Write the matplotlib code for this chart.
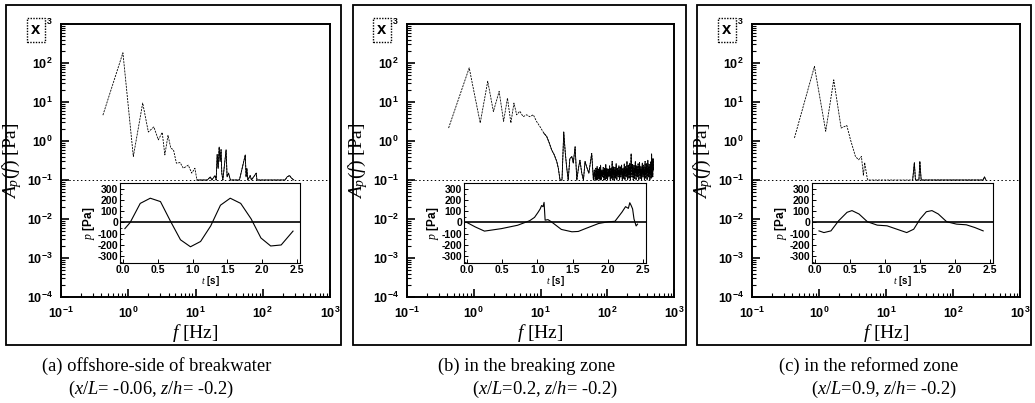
import matplotlib
matplotlib.use("Agg")
import matplotlib.pyplot as plt
import matplotlib.ticker as ticker
from matplotlib.patches import Rectangle
import numpy as np

plt.rcParams["mathtext.fontset"] = "custom"
plt.rcParams["mathtext.rm"] = "Liberation Sans:bold"
plt.rcParams["mathtext.bf"] = "Liberation Sans:bold"
plt.rcParams["mathtext.it"] = "Liberation Serif:italic"
plt.rcParams["axes.unicode_minus"] = False

# ---- spectra A_p(f) [Pa] ----
fa = [0.42, 0.833, 1.19, 1.64, 1.99, 2.4, 2.8, 3.2, 3.5, 3.9, 4.3, 4.7, 5.2, 5.9, 6.6, 7.8, 8.8,
      9.8, 10.5, 15, 16.6, 17.5, 19.5, 20.3, 21, 21.7, 22.5, 23.2, 24, 24.6, 25.5, 28.5, 29.5, 31,
      33, 45, 55, 56.5, 58, 60, 65, 68, 80, 82, 215, 230, 250, 270, 290]
Aa = [4.6, 183, 0.4, 9.4, 1.7, 2.3, 1.07, 1.66, 0.44, 1.4, 0.65, 0.6, 0.27, 0.28, 0.2, 0.24, 0.15,
      0.2, 0.1, 0.1, 0.12, 0.1, 0.13, 0.1, 0.45, 0.2, 0.7, 0.3, 0.6, 0.15, 0.1, 0.59, 0.12, 0.15,
      0.1, 0.1, 0.44, 0.12, 0.2, 0.1, 0.13, 0.1, 0.15, 0.1, 0.1, 0.12, 0.13, 0.11, 0.1]

fb = [0.42, 0.855, 1.25, 1.62, 1.97, 2.4, 2.8, 3.2, 3.6, 4.0, 4.4, 4.9, 5.5, 6.2, 6.9, 7.8, 8.7,
      9.8, 11.2, 12.4, 13.5, 14.7, 16.0, 17.5, 18.5, 19.6, 21.0, 22.3, 23.5, 24.6, 26, 27.5, 29.5,
      31, 33, 35, 37, 39, 41.5, 44, 46.5, 49, 53, 58.5, 62, 64, 66, 67.5, 69, 70.5, 72, 73.5, 75,
      76.5, 78, 79.5, 81, 83, 85, 87, 89, 91, 93, 95, 97, 99, 101, 103.5, 106, 108.5, 111, 113.5,
      116, 118.5, 121, 124, 127, 130, 133, 136, 139, 142.5, 146, 149.5, 153, 156.5, 160, 164,
      168, 172, 176, 180, 184, 188.5, 193, 197.5, 202, 207, 212, 217, 222, 228, 234, 239.5, 245,
      251, 257, 263.5, 270, 276.5, 283, 290, 297, 304.5, 312, 319.5, 327, 335, 343, 351.5, 360,
      369, 378, 387, 396, 405.5, 415, 425, 435, 445, 455, 462, 470, 475, 480, 485, 490]
Ab = [2.15, 75, 2.9, 34, 5.7, 18.7, 3.2, 12.6, 2.9, 9.4, 4.7, 5.8, 4.2, 4.7, 4.2, 4.7, 3.2,
      2.35, 1.6, 1.3, 0.9, 0.59, 0.45, 0.3, 0.2, 0.1, 0.1, 1.7, 0.5, 0.22, 0.1, 0.35, 0.4,
      0.27, 0.71, 0.1, 0.2, 0.32, 0.15, 0.1, 0.3, 0.22, 0.15, 0.48, 0.1, 0.18, 0.1, 0.2, 0.1, 0.22,
      0.1, 0.19, 0.11, 0.21, 0.1, 0.24, 0.1, 0.18, 0.12, 0.21, 0.1, 0.2, 0.1, 0.25, 0.11, 0.2,
      0.1, 0.19, 0.12, 0.23, 0.1, 0.2, 0.11, 0.3, 0.1, 0.22, 0.1, 0.21, 0.11, 0.26, 0.1, 0.2,
      0.12, 0.23, 0.1, 0.22, 0.12, 0.24, 0.1, 0.2, 0.11, 0.26, 0.1, 0.22,
      0.12, 0.3, 0.1, 0.24, 0.11, 0.27, 0.1, 0.47, 0.12, 0.25, 0.1, 0.24, 0.11, 0.3, 0.1, 0.23,
      0.12, 0.26, 0.1, 0.28, 0.11, 0.22, 0.1, 0.27, 0.12, 0.24, 0.1, 0.3, 0.11, 0.26, 0.1, 0.32,
      0.12, 0.25, 0.1, 0.29, 0.11, 0.47, 0.13, 0.3, 0.12, 0.35, 0.18]

fc = [0.43, 0.855, 1.26, 1.66, 2.14, 2.6, 2.95, 3.5, 3.9, 4.3, 4.6, 4.8, 5.3, 6.0, 25, 26.5,
      27.5, 31, 32, 33.5, 280, 295, 310]
Ac = [1.2, 82, 1.78, 37, 2.15, 2.5, 1.08, 0.4, 0.33, 0.4, 0.13, 0.28, 0.1, 0.1, 0.1, 0.28,
      0.1, 0.1, 0.3, 0.1, 0.1, 0.12, 0.1]

# ---- pressure time series p(t) [Pa] ----
ta = [0.03, 0.106, 0.25, 0.394, 0.54, 0.68, 0.827, 0.97, 1.115, 1.26, 1.40, 1.54, 1.69, 1.84,
      1.98, 2.12, 2.27, 2.44]
pa = [-55, 0, 169, 215, 185, 15, -154, -216, -169, -31, 153, 215, 169, 31, -138, -209, -200, -77]

tb = [0.0, 0.12, 0.25, 0.49, 0.72, 0.89, 0.96, 1.01, 1.04, 1.06, 1.08, 1.095, 1.11, 1.15, 1.2,
      1.34, 1.49, 1.58, 1.68, 1.87, 2.01, 2.1, 2.2, 2.25, 2.29, 2.31, 2.33, 2.35, 2.37, 2.40, 2.42]
pb = [0, -40, -77, -55, -25, 15, 45, 90, 120, 150, 140, 178, 20, 25, 5, -62, -83, -80, -55, -9,
      6, 10, 92, 140, 125, 175, 150, 120, 30, -31, -15]

tc = [0.06, 0.13, 0.23, 0.34, 0.46, 0.53, 0.63, 0.75, 0.89, 1.03, 1.17, 1.31, 1.41, 1.5, 1.59,
      1.67, 1.76, 1.88, 2.02, 2.16, 2.28, 2.40]
pc = [-75, -90, -75, 15, 90, 105, 75, 6, -24, -30, -60, -90, -60, 30, 95, 105, 75, 6, -15, -21,
      -45, -75]

captions = ["(a) offshore-side of breakwater", "(b) in the breaking zone",
            "(c) in the reformed zone"]
captions2 = [r"($x$/$L$= -0.06, $z$/$h$= -0.2)", r"($x$/$L$=0.2, $z$/$h$= -0.2)",
             r"($x$/$L$=0.9, $z$/$h$= -0.2)"]

W, H = 1035, 403
fig = plt.figure(figsize=(W / 100, H / 100), dpi=100)


def box(x0, x1, y0, y1):
    return [x0 / W, 1 - y1 / H, (x1 - x0) / W, (y1 - y0) / H]


main_px = [(61, 330), (407, 674), (752, 1020)]
inset_px = [(120, 300), (464, 646), (812, 993)]
frame_px = [(6, 341), (353, 686), (697, 1031)]
cap_x = [157, 527, 869]
cap2_x = [151, 545, 884]
spectra = [(fa, Aa), (fb, Ab), (fc, Ac)]
series = [(ta, pa), (tb, pb), (tc, pc)]

for i in range(3):
    # outer frame
    fx0, fx1 = frame_px[i]
    fig.patches.append(Rectangle((fx0 / W, 1 - 345 / H), (fx1 - fx0) / W, 340 / H,
                                 transform=fig.transFigure, fill=False, lw=1.3,
                                 edgecolor="black", zorder=0.5))

    x0, x1 = main_px[i]
    ax = fig.add_axes(box(x0, x1, 24, 297))
    f, A = spectra[i]
    f = np.array(f)
    A = np.array(A)
    ax.plot(f, A, color="black", lw=0.6, ls=(0, (2.5, 1.2)))
    hi = f >= 10
    ax.plot(f[hi], A[hi], color="black", lw=0.6)
    ax.axhline(0.1, color="black", lw=0.7, ls=(0, (1.5, 2.5)))
    ax.set_xscale("log")
    ax.set_yscale("log")
    ax.set_xlim(0.1, 1000)
    ax.set_ylim(1e-4, 1e3)
    fmt = ticker.FuncFormatter(lambda v, pos: r"$\mathrm{10^{%d}}$" % round(np.log10(v)))
    ax.xaxis.set_major_formatter(fmt)
    ax.yaxis.set_major_formatter(fmt)
    ax.xaxis.set_major_locator(ticker.LogLocator(base=10, numticks=10))
    ax.yaxis.set_major_locator(ticker.LogLocator(base=10, numticks=10))
    ax.xaxis.set_minor_locator(ticker.LogLocator(base=10, subs=np.arange(2, 10), numticks=20))
    ax.yaxis.set_minor_locator(ticker.LogLocator(base=10, subs=np.arange(2, 10), numticks=20))
    ax.xaxis.set_minor_formatter(ticker.NullFormatter())
    ax.yaxis.set_minor_formatter(ticker.NullFormatter())
    ax.tick_params(which="major", direction="in", length=6, width=1.2, labelsize=9, pad=6)
    ax.tick_params(which="minor", direction="in", length=3, width=0.8)
    for s in ax.spines.values():
        s.set_linewidth(1.4)
    ax.set_xlabel(r"$f$ [Hz]", family="Liberation Serif", fontsize=14, labelpad=1)
    ax.set_ylabel(r"$A_p$($f$) [Pa]", family="Liberation Serif", fontsize=14, labelpad=2)

    # inset with pressure time series
    ix0, ix1 = inset_px[i]
    ins = fig.add_axes(box(ix0, ix1, 183, 263))
    t, p = series[i]
    ins.plot(t, p, color="black", lw=0.8)
    ins.axhline(0, color="black", lw=1.2)
    ins.set_xlim(-0.04, 2.54)
    ins.set_ylim(-360, 350)
    ins.set_xticks([0, 0.5, 1.0, 1.5, 2.0, 2.5])
    ins.set_xticklabels(["0.0", "0.5", "1.0", "1.5", "2.0", "2.5"])
    ins.set_yticks([300, 200, 100, 0, -100, -200, -300])
    ins.set_yticklabels(["300", "200", "100", "0", "-100", "-200", "-300"])
    ins.yaxis.set_minor_locator(ticker.MultipleLocator(50))
    ins.tick_params(which="major", direction="in", length=3, width=0.7, labelsize=7.5, pad=1.5)
    ins.tick_params(which="minor", direction="in", length=1.5, width=0.6)
    for lab in ins.get_xticklabels() + ins.get_yticklabels():
        lab.set_family("Liberation Sans")
        lab.set_weight("bold")
    for s in ins.spines.values():
        s.set_linewidth(0.8)
    ins.set_xlabel(r"$t$ [s]", family="Liberation Sans", weight="bold", fontsize=7, labelpad=-1)
    ins.set_ylabel(r"$p$ [Pa]", family="Liberation Sans", weight="bold", fontsize=8.5, labelpad=0)

    # legend stub box covering the 10^3 label
    bx = x0 - 34
    fig.patches.append(Rectangle((bx / W, 1 - 42 / H), 18 / W, 24 / H, transform=fig.transFigure,
                                 facecolor="white", edgecolor="black", lw=1.0, ls=(0, (1, 1)),
                                 zorder=5))
    fig.text((bx + 9) / W, 1 - 30 / H, "x", ha="center", va="center", fontsize=12,
             family="Liberation Sans", weight="bold", zorder=6)

    # captions
    fig.text(cap_x[i] / W, 1 - 366 / H, captions[i], ha="center", va="center",
             family="Liberation Serif", fontsize=13.3)
    fig.text(cap2_x[i] / W, 1 - 389 / H, captions2[i], ha="center", va="center",
             family="Liberation Serif", fontsize=13.3)

fig.savefig("out.png", dpi=100)
